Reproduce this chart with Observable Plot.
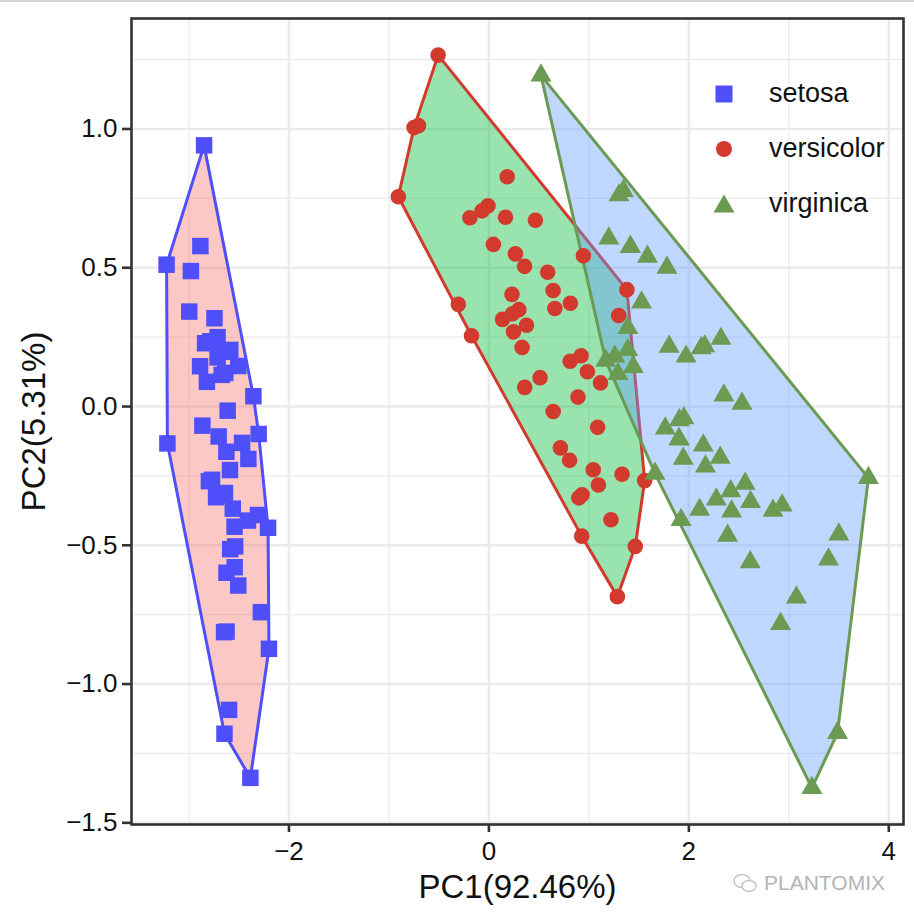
<!DOCTYPE html>
<html>
<head>
<meta charset="utf-8">
<script src="https://cdn.jsdelivr.net/npm/d3@7"></script>
<script src="https://cdn.jsdelivr.net/npm/@observablehq/plot@0.6"></script>
<style>
  body { margin: 0; background: #fff; font-family: "Liberation Sans", Arial, sans-serif; }
  #wrap { position: relative; width: 914px; height: 922px; overflow: hidden; }
  #topline { position: absolute; left: 0; top: 0; width: 914px; height: 2px; background: #d4d4d4; }
  #legend { position: absolute; left: 700px; top: 66px; }
  .row { position: relative; height: 55px; width: 200px; }
  .row svg { position: absolute; left: 10px; top: 14px; }
  .row span { position: absolute; left: 69px; top: 12px; font-size: 27px; color: #111; line-height: 30px; }
  #wm { position: absolute; left: 732px; top: 871px; color: #b4b4b4; font-size: 21px; display: flex; align-items: center; }
  #wm svg { margin-right: 6px; }
</style>
</head>
<body>
<div id="wrap">
  <div id="chart"></div>
  <div id="topline"></div>
  <div id="legend"></div>
  <div id="wm">
    <svg width="26" height="22" viewBox="0 0 26 22"><ellipse cx="10" cy="9" rx="8" ry="6.5" fill="none" stroke="#c4c4c4" stroke-width="1.4"/><ellipse cx="17" cy="14" rx="7" ry="5.5" fill="#fff" stroke="#c4c4c4" stroke-width="1.4"/></svg>
    <span>PLANTOMIX</span>
  </div>
</div>
<script>
// ---- data (PC scores) ----
const species = ["setosa", "versicolor", "virginica"];

const setosaPC1 = [-2.684,-2.714,-2.889,-2.745,-2.729,-2.281,-2.821,-2.626,-2.886,-2.673,-2.507,-2.613,-2.786,-3.224,-2.645,-2.386,-2.624,-2.648,-2.200,-2.588,-2.310,-2.544,-3.216,-2.303,-2.356,-2.507,-2.469,-2.562,-2.640,-2.632,-2.587,-2.410,-2.649,-2.599,-2.637,-2.866,-2.625,-2.801,-2.981,-2.590,-2.770,-2.849,-2.997,-2.406,-2.209,-2.714,-2.538,-2.839,-2.543,-2.703];
const setosaPC2 = [-0.319,0.177,0.145,0.318,-0.327,-0.741,0.089,-0.163,0.578,0.114,-0.645,-0.015,0.235,0.511,-1.179,-1.338,-0.811,-0.312,-0.873,-0.514,-0.391,-0.433,-0.133,-0.099,0.037,0.146,-0.131,-0.368,-0.312,0.197,0.204,-0.411,-0.813,-1.093,0.121,-0.069,-0.599,-0.269,0.488,-0.229,-0.264,0.941,0.342,-0.189,-0.437,0.250,-0.504,0.228,-0.579,-0.108];

const versicolorPC1 = [1.285,0.932,1.464,0.183,1.088,0.642,1.095,-0.749,1.044,-0.009,-0.508,0.512,0.265,0.985,-0.174,0.928,0.660,0.236,0.945,0.045,1.116,0.358,1.298,0.922,0.715,0.900,1.332,1.558,0.813,-0.306,-0.068,-0.190,0.136,1.380,0.588,0.807,1.221,0.815,0.246,0.166,0.465,0.891,0.231,-0.705,0.357,0.332,0.376,0.643,-0.906,0.299];
const versicolorPC2 = [-0.685,-0.318,-0.504,0.828,-0.075,0.418,-0.283,1.005,-0.228,0.723,1.266,0.104,0.550,0.125,0.255,-0.467,0.353,0.334,0.543,0.584,0.085,0.069,0.328,0.183,-0.149,-0.329,-0.244,-0.267,0.163,0.368,0.705,0.680,0.314,0.421,0.484,-0.194,-0.408,0.372,0.269,0.682,0.671,0.034,0.404,1.012,0.505,0.213,0.293,-0.018,0.756,0.349];

const virginicaPC1 = [2.531,1.415,2.617,1.972,2.350,3.397,0.521,2.933,2.321,2.917,1.662,1.803,2.166,1.346,1.586,1.904,1.950,3.487,3.796,1.301,2.428,1.199,3.500,1.389,2.275,2.614,1.259,1.291,2.124,2.388,2.842,3.231,2.159,1.444,1.781,3.076,2.144,1.905,1.169,2.108,2.314,1.922,1.415,2.563,2.419,1.944,1.527,1.764,1.901,1.390];
const virginicaPC2 = [0.010,0.575,-0.344,0.180,0.040,-0.551,1.193,-0.356,0.244,-0.783,-0.242,0.216,-0.216,0.777,0.540,-0.119,-0.042,-1.176,-0.257,0.761,-0.378,0.606,-0.461,0.204,-0.335,-0.561,0.180,0.117,0.210,-0.465,-0.375,-1.374,0.217,0.143,0.500,-0.688,-0.140,-0.049,0.165,-0.372,-0.184,-0.409,0.575,-0.278,-0.305,-0.188,0.375,-0.079,-0.117,0.283];

const xTicks = [-2, 0, 2, 4];
const xMinor = [-3, -1, 1, 3];
const yTicks = [-1.5, -1.0, -0.5, 0.0, 0.5, 1.0];
const yMinor = [-1.25, -0.75, -0.25, 0.25, 0.75, 1.25];
const xTitle = "PC1(92.46%)";
const yTitle = "PC2(5.31%)";

// ---- styles ----
const hullFill = {setosa: "#F8766D", versicolor: "#00BA38", virginica: "#619CFF"};
const pointColor = {setosa: "#4F4FFA", versicolor: "#D23A2E", virginica: "#6B9A53"};
const pointSymbol = {setosa: "square", versicolor: "circle", virginica: "triangle"};
const pointR = {setosa: 9.3, versicolor: 7.8, virginica: 7.8};

const cols = {setosa: [setosaPC1, setosaPC2], versicolor: [versicolorPC1, versicolorPC2], virginica: [virginicaPC1, virginicaPC2]};
const data = species.flatMap(s => cols[s][0].map((x, i) => ({species: s, pc1: x, pc2: cols[s][1][i]})));

const marks = [
  Plot.gridX(xMinor, {stroke: "#ebebeb", strokeOpacity: 1, strokeWidth: 1.2}),
  Plot.gridY(yMinor, {stroke: "#ebebeb", strokeOpacity: 1, strokeWidth: 1.2}),
  Plot.gridX(xTicks, {stroke: "#ebebeb", strokeOpacity: 1, strokeWidth: 2.6}),
  Plot.gridY(yTicks, {stroke: "#ebebeb", strokeOpacity: 1, strokeWidth: 2.6}),
];
for (const s of species) {
  marks.push(Plot.hull(data.filter(d => d.species === s), {
    x: "pc1", y: "pc2", fill: hullFill[s], fillOpacity: 0.4,
    stroke: pointColor[s], strokeWidth: 3, strokeLinejoin: "round"
  }));
}
for (const s of species) {
  marks.push(Plot.dot(data.filter(d => d.species === s), {
    x: "pc1", y: "pc2", symbol: () => pointSymbol[s], r: pointR[s], fill: pointColor[s], stroke: "none"
  }));
}
marks.push(
  Plot.frame({stroke: "#333", strokeWidth: 2.6}),
  Plot.axisX(xTicks, {tickSize: 8, tickPadding: 9, fontSize: 26, strokeWidth: 2.6, stroke: "#333", fill: "#111", label: null, tickFormat: d3.format("d")}),
  Plot.axisY(yTicks, {tickSize: 9, tickPadding: 5, fontSize: 26, strokeWidth: 2.6, stroke: "#333", fill: "#111", label: null, tickFormat: d3.format(".1f")}),
  Plot.text([xTitle], {text: d => d, frameAnchor: "bottom", textAnchor: "middle", lineAnchor: "middle", dy: 63, fontSize: 33, fill: "#111"}),
  Plot.text([yTitle], {text: d => d, frameAnchor: "left", textAnchor: "middle", lineAnchor: "middle", rotate: -90, dx: -97, fontSize: 33, fill: "#111"})
);

const chart = Plot.plot({
  width: 914, height: 922,
  marginLeft: 131, marginRight: 11, marginTop: 18, marginBottom: 98,
  x: {domain: [-3.575, 4.147]},
  y: {domain: [-1.506, 1.398]},
  symbol: {type: "identity"},
  style: {fontFamily: "'Liberation Sans', Arial, sans-serif", background: "transparent"},
  marks
});
document.getElementById("chart").appendChild(chart);

// ---- legend ----
const legend = document.getElementById("legend");
const legendShapes = {
  setosa: `<svg width="28" height="28"><rect x="5.5" y="5.5" width="17" height="17" fill="${pointColor.setosa}"/></svg>`,
  versicolor: `<svg width="28" height="28"><circle cx="14" cy="14" r="8" fill="${pointColor.versicolor}"/></svg>`,
  virginica: `<svg width="28" height="28"><path d="M14,4.5 L24.5,22.5 L3.5,22.5 Z" fill="${pointColor.virginica}"/></svg>`
};
for (const s of species) {
  const row = document.createElement("div");
  row.className = "row";
  row.innerHTML = legendShapes[s] + `<span>${s}</span>`;
  legend.appendChild(row);
}
</script>
</body>
</html>
